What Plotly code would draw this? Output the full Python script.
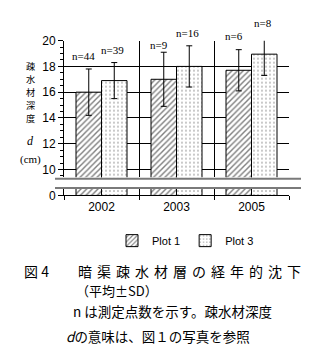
import plotly.graph_objects as go

# ---- data ----
years = ["2002", "2003", "2005"]
series_names = ["Plot 1", "Plot 3"]
plot1_mean = [16.0, 17.0, 17.7]
plot1_sd = [1.8, 2.1, 1.6]
plot3_mean = [16.9, 18.0, 18.95]
plot3_sd = [1.4, 1.6, 1.65]
plot1_n = [44, 9, 6]
plot3_n = [39, 16, 8]
upper_ticks = [10, 12, 14, 16, 18, 20]
lower_ticks = [0]
y_title_chars = ["疎", "水", "材", "深", "度"]

# ---- layout helpers (pixel -> paper) ----
W, H = 326, 363
def px(x):
    return x / W
def py(y):
    return 1 - y / H

UP_TOP, UP_BOT = 35, 177          # pixel rows of upper panel
UP_RANGE = [9.4, 20]
PPU = (UP_BOT - UP_TOP) / (UP_RANGE[1] - UP_RANGE[0])

label_dy1 = [13, 7, 14]   # style: vertical shift of n-labels (px)
label_dy3 = [13, 13, 10]

fig = go.Figure()
patterns = [
    dict(shape="/", fgcolor="black", bgcolor="white", size=4, solidity=0.35),
    dict(shape=".", fgcolor="black", bgcolor="white", size=4, solidity=0.12),
]
means = [plot1_mean, plot3_mean]
sds = [plot1_sd, plot3_sd]

for i in range(2):
    fig.add_trace(go.Bar(
        x=years, y=means[i], name=series_names[i],
        xaxis="x2", yaxis="y2", offsetgroup=str(i),
        marker=dict(color="white", pattern=patterns[i], line=dict(color="black", width=1)),
        error_y=dict(type="data", array=sds[i], visible=True, color="black", thickness=1, width=3),
        showlegend=True,
    ))
for i in range(2):
    fig.add_trace(go.Bar(
        x=years, y=means[i], name=series_names[i],
        xaxis="x", yaxis="y", offsetgroup=str(i),
        marker=dict(color="white", pattern=patterns[i], line=dict(color="black", width=1)),
        showlegend=False,
    ))

annotations = []
nfont = dict(family="Liberation Serif", size=11, color="black")
for j in range(len(years)):
    for mean, sd, n, dys, xs in [(plot1_mean, plot1_sd, plot1_n, label_dy1, -18),
                                 (plot3_mean, plot3_sd, plot3_n, label_dy3, 11)]:
        top = mean[j] + sd[j]
        ya = min(top, UP_RANGE[1])
        annotations.append(dict(x=j, y=ya, xref="x", yref="y2",
                                text=f"n={n[j]}", showarrow=False, xanchor="center", yanchor="middle",
                                xshift=xs, yshift=dys[j] + (top - ya) * PPU, font=nfont))

cjk = "Noto Sans CJK JP"
def pann(x, y, text, font, xanchor="center", pad=1):
    return dict(x=px(x), y=py(y), xref="paper", yref="paper", showarrow=False,
                xanchor=xanchor, yanchor="middle", text=text, font=font, borderpad=pad)

# y-axis title (stacked vertically)
for k, ch in enumerate(y_title_chars):
    annotations.append(pann(30, 61.7 + 13.4 * k, ch, dict(family=cjk, size=9.2, color="black"), pad=0))
annotations.append(pann(30, 139, "<i>d</i>", dict(family="Liberation Serif", size=12, color="black")))
annotations.append(pann(30, 159, "(cm)", dict(family="Liberation Serif", size=11, color="black")))
# caption
annotations.append(pann(22, 275, "図 4", dict(family=cjk, size=14, color="black"), "left"))
annotations.append(pann(76, 275, '<span style="letter-spacing:5px">暗渠疎水材層の経年的沈下</span>',
                        dict(family=cjk, size=14, color="black"), "left"))
annotations.append(pann(74, 295, "（平均±SD）", dict(family=cjk, size=13, color="black"), "left"))
annotations.append(pann(71, 316, "n は測定点数を示す。疎水材深度", dict(family=cjk, size=13.5, color="black"), "left"))
annotations.append(pann(64, 342, "<i>d</i>の意味は、図１の写真を参照", dict(family=cjk, size=13.5, color="black"), "left"))

shapes = [
    dict(type="line", xref="paper", yref="paper", x0=px(55), x1=px(301), y0=py(178.7), y1=py(178.7),
         line=dict(color="#7a7a7a", width=2)),
    dict(type="line", xref="paper", yref="paper", x0=px(55), x1=px(301), y0=py(188.3), y1=py(188.3),
         line=dict(color="#7a7a7a", width=2)),
]

xdom = [px(64), px(289)]
tickfont_x = dict(family="Liberation Sans", size=12, color="black")
tickfont_y = dict(family="Liberation Sans Narrow, Liberation Sans", size=12, color="black")

fig.update_layout(
    width=W, height=H, margin=dict(l=0, r=0, t=0, b=0),
    paper_bgcolor="white", plot_bgcolor="white",
    barmode="group", bargap=0.32, bargroupgap=0,
    font=dict(family="Liberation Sans", color="black"),
    xaxis=dict(domain=xdom, anchor="y", type="category", range=[-0.5, 2.5],
               tickson="boundaries", ticks="outside", ticklen=4, tickcolor="black",
               showline=True, linecolor="black", linewidth=1,
               showgrid=True, gridcolor="black", gridwidth=1, tickfont=tickfont_x),
    xaxis2=dict(domain=xdom, anchor="y2", matches="x", type="category", range=[-0.5, 2.5],
                tickson="boundaries", showticklabels=False, ticks="",
                showline=False, showgrid=True, gridcolor="black", gridwidth=1),
    yaxis=dict(domain=[py(196), py(189.3)], anchor="x", range=[0, 0.5],
               tickvals=lower_ticks, ticks="outside", ticklen=5, tickcolor="black",
               showline=True, linecolor="black", linewidth=1, showgrid=False, zeroline=False,
               tickfont=tickfont_y),
    yaxis2=dict(domain=[py(UP_BOT), py(UP_TOP)], anchor="x2", range=UP_RANGE,
                tickvals=upper_ticks, ticks="outside", ticklen=5, tickcolor="black",
                minor=dict(dtick=0.5, ticks="outside", ticklen=3, tickcolor="black", showgrid=False),
                showline=True, linecolor="black", linewidth=1,
                showgrid=True, gridcolor="black", gridwidth=1, zeroline=False,
                tickfont=tickfont_y),
    legend=dict(orientation="h", x=px(112), y=py(243), xanchor="left", yanchor="middle",
                font=dict(family="Liberation Sans", size=11, color="black"),
                bgcolor="rgba(0,0,0,0)", itemwidth=30),
    annotations=annotations,
    shapes=shapes,
)

fig.write_html("out.html")
